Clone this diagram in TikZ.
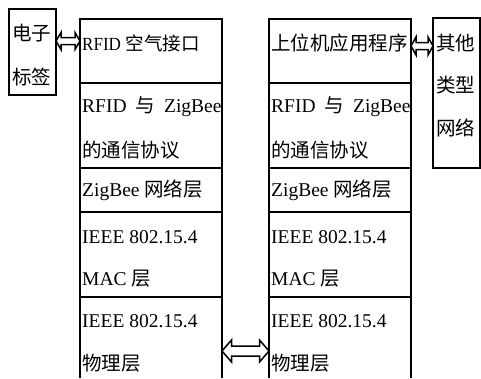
\documentclass[tikz,border=0pt]{standalone}
\usepackage{fontspec}
\setmainfont{Liberation Serif}
\newfontfamily\cjk{Noto Sans CJK SC}
\usetikzlibrary{calc}
\newcommand\dblarrow[5]{%
  \draw[arrowline] (#1) -- ($(#1)+(#5,#4)$) -- ($(#1)+(#5,#3)$) -- ($(#2)+(-#5,#3)$) -- ($(#2)+(-#5,#4)$) -- (#2)
   -- ($(#2)+(-#5,-#4)$) -- ($(#2)+(-#5,-#3)$) -- ($(#1)+(#5,-#3)$) -- ($(#1)+(#5,-#4)$) -- cycle;}
\newcommand\rfidzig{RFID\hspace{9pt}{\cjk 与}\hspace{9pt}ZigBee}
\begin{document}
\begin{tikzpicture}[x=1pt,y=-1pt,
  frame/.style={draw=black,line width=1.7pt,inner sep=0pt,outer sep=0pt,anchor=north west},
  openframe/.style={inner sep=0pt,outer sep=0pt,anchor=north west},
  lbl/.style={anchor=west,inner sep=0pt,font=\fontsize{19.5}{20}\selectfont},
  arrowline/.style={draw=black,line width=1.5pt,fill=white,line join=miter}]
\useasboundingbox (0,0) rectangle (481,378);
% left stack
\node[frame,minimum width=142pt,minimum height=64pt] (L1) at (80,19) {};
\node[frame,minimum width=142pt,minimum height=85pt] (L2) at (80,83) {};
\node[frame,minimum width=142pt,minimum height=44pt] (L3) at (80,168) {};
\node[frame,minimum width=142pt,minimum height=85pt] (L4) at (80,212) {};
\node[openframe,minimum width=142pt,minimum height=81pt] (L5) at (80,297) {};
\draw[line width=1.7pt] (L5.south west) -- (L5.north west) -- (L5.north east) -- (L5.south east);
% right stack
\node[frame,minimum width=142pt,minimum height=64pt] (R1) at (269,19) {};
\node[frame,minimum width=142pt,minimum height=85pt] (R2) at (269,83) {};
\node[frame,minimum width=142pt,minimum height=44pt] (R3) at (269,168) {};
\node[frame,minimum width=142pt,minimum height=85pt] (R4) at (269,212) {};
\node[openframe,minimum width=142pt,minimum height=81pt] (R5) at (269,297) {};
\draw[line width=1.7pt] (R5.south west) -- (R5.north west) -- (R5.north east) -- (R5.south east);
% side boxes
\node[frame,minimum width=47pt,minimum height=86pt] (tag) at (9,9) {};
\node[frame,minimum width=47pt,minimum height=150pt] (oth) at (433,18) {};
% texts left
\node[lbl,font=\fontsize{18.5}{20}\selectfont] (tl1) at (82,43) {\scalebox{0.92}[1]{RFID} {\cjk 空气接口}};
\node[lbl] (tl2a) at (82,107) {\rfidzig};
\node[lbl] (tl2b) at (82,150) {\cjk 的通信协议};
\node[lbl] (tl3) at (82,190) {ZigBee {\cjk 网络层}};
\node[lbl] (tl4a) at (82,237) {IEEE 802.15.4};
\node[lbl] (tl4b) at (82,279) {MAC {\cjk 层}};
\node[lbl] (tl5a) at (82,321) {IEEE 802.15.4};
\node[lbl] (tl5b) at (82,363) {\cjk 物理层};
% texts right
\node[lbl] (tr1) at (271,43) {\cjk 上位机应用程序};
\node[lbl] (tr2a) at (271,107) {\rfidzig};
\node[lbl] (tr2b) at (271,150) {\cjk 的通信协议};
\node[lbl] (tr3) at (271,190) {ZigBee {\cjk 网络层}};
\node[lbl] (tr4a) at (271,237) {IEEE 802.15.4};
\node[lbl] (tr4b) at (271,279) {MAC {\cjk 层}};
\node[lbl] (tr5a) at (271,321) {IEEE 802.15.4};
\node[lbl] (tr5b) at (271,363) {\cjk 物理层};
% side texts
\node[lbl] (tg1) at (12,33) {\cjk 电子};
\node[lbl] (tg2) at (12,77) {\cjk 标签};
\node[lbl] (o1) at (436,43) {\cjk 其他};
\node[lbl] (o2) at (436,85) {\cjk 类型};
\node[lbl] (o3) at (436,128) {\cjk 网络};
% arrows
\coordinate (a1) at (tag.east |- 0,41);
\coordinate (a2) at (L1.west |- 0,41);
\coordinate (b1) at (R1.east |- 0,46);
\coordinate (b2) at (oth.west |- 0,46);
\coordinate (c1) at (L5.east |- 0,351);
\coordinate (c2) at (R5.west |- 0,351);
\dblarrow{a1}{a2}{3.5}{8.5}{5}
\dblarrow{b1}{b2}{3.5}{9}{5}
\dblarrow{c1}{c2}{5}{11}{9.5}
\end{tikzpicture}
\end{document}
